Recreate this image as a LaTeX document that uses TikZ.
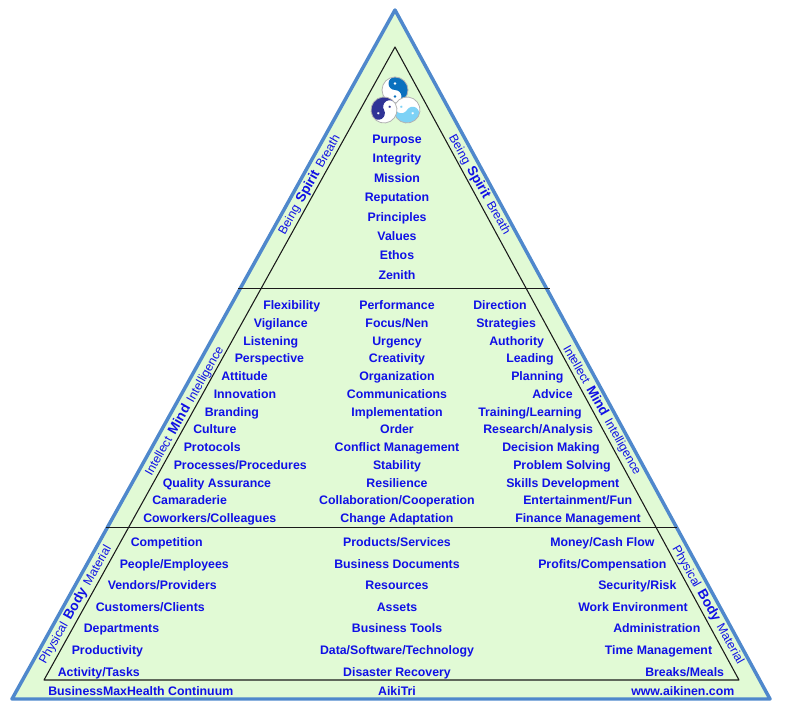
\documentclass[tikz,border=0pt]{standalone}
\usepackage{fontspec}
\setmainfont{Liberation Sans}
\definecolor{fillgreen}{HTML}{E1FAD5}
\definecolor{edgeblue}{HTML}{4F88CC}
\definecolor{txtblue}{HTML}{1010E6}
\definecolor{lineblack}{HTML}{1A1A1A}
\definecolor{yyblue}{HTML}{0A70BE}
\definecolor{yynavy}{HTML}{2F3396}
\definecolor{yylight}{HTML}{7DD2F6}
\newcommand{\yy}[4]{%
  \begin{scope}[shift={(#1,#2)},x=0.75pt,y=0.75pt,rotate=#3]
    \fill[white] (0,0) circle[radius=13];
    \fill[#4] (0,13) arc[start angle=90,end angle=-90,radius=13]
      arc[start angle=-90,end angle=90,radius=6.5]
      arc[start angle=270,end angle=90,radius=6.5] -- cycle;
    \draw[gray!60,line width=0.6pt] (0,0) circle[radius=13];
    \fill[white] (0,6.5) circle[radius=1.3];
    \fill[#4] (0,-6.5) circle[radius=1.3];
  \end{scope}}
\tikzset{
  lt/.style={anchor=base west,inner sep=0pt,font=\fontsize{9.25pt}{10pt}\selectfont\bfseries,text=txtblue},
  ct/.style={anchor=base,inner sep=0pt,font=\fontsize{9.25pt}{10pt}\selectfont\bfseries,text=txtblue},
  side/.style={anchor=center,inner sep=0pt,font=\fontsize{9.2pt}{10pt}\selectfont,text=txtblue},
  outer/.style={fill=fillgreen,draw=edgeblue,line width=2.6pt,line join=round},
  inner/.style={draw=lineblack,line width=0.8pt,line join=round},
  rule/.style={draw=lineblack,line width=0.7pt}
}
\newcommand{\sidetext}[3]{#1\hspace{0.42em}{\fontsize{10.2pt}{10pt}\selectfont\bfseries #2}\hspace{0.42em}#3}
\begin{document}
\begin{tikzpicture}[x=0.75pt,y=-0.75pt]
\useasboundingbox (0,0) rectangle (790,724);
\coordinate (oa) at (395,10);
\coordinate (ol) at (12,699);
\coordinate (or) at (770,699);
\coordinate (ia) at (395,47);
\coordinate (il) at (44,680);
\coordinate (ir) at (739,680);
\coordinate (ml) at (238,288);
\coordinate (mr) at (550,288);
\coordinate (bl) at (106,527);
\coordinate (br) at (677,527);
\draw[outer] (oa) -- (ol) -- (or) -- cycle;
\draw[inner] (ia) -- (il) -- (ir) -- cycle;
\draw[rule] (ml) -- (mr);
\draw[rule] (bl) -- (br);
\yy{395}{90}{0}{yyblue}
\yy{407}{110}{-120}{yylight}
\yy{384}{110}{120}{yynavy}
% Spirit
\node[ct] (s1) at (397,144) {Purpose};
\node[ct] (s2) at (397,163) {Integrity};
\node[ct] (s3) at (397,182.5) {Mission};
\node[ct] (s4) at (397,201.5) {Reputation};
\node[ct] (s5) at (397,221) {Principles};
\node[ct] (s6) at (397,240.5) {Values};
\node[ct] (s7) at (397,259.5) {Ethos};
\node[ct] (s8) at (397,279) {Zenith};
% Mind left
\node[lt] (ml1) at (263,309) {Flexibility};
\node[lt] (ml2) at (253.5,327) {Vigilance};
\node[lt] (ml3) at (243,345) {Listening};
\node[lt] (ml4) at (234.5,362.5) {Perspective};
\node[lt] (ml5) at (221,380.5) {Attitude};
\node[lt] (ml6) at (213.5,398) {Innovation};
\node[lt] (ml7) at (204.5,416) {Branding};
\node[lt] (ml8) at (193,433.5) {Culture};
\node[lt] (ml9) at (183.5,451.5) {Protocols};
\node[lt] (ml10) at (173.5,469) {Processes/Procedures};
\node[lt] (ml11) at (162.5,487) {Quality Assurance};
\node[lt] (ml12) at (152,504.5) {Camaraderie};
\node[lt] (ml13) at (143,522.5) {Coworkers/Colleagues};
% Mind centre
\node[ct] (mc1) at (397,309) {Performance};
\node[ct] (mc2) at (397,327) {Focus/Nen};
\node[ct] (mc3) at (397,345) {Urgency};
\node[ct] (mc4) at (397,362.5) {Creativity};
\node[ct] (mc5) at (397,380.5) {Organization};
\node[ct] (mc6) at (397,398) {Communications};
\node[ct] (mc7) at (397,416) {Implementation};
\node[ct] (mc8) at (397,433.5) {Order};
\node[ct] (mc9) at (397,451.5) {Conflict Management};
\node[ct] (mc10) at (397,469) {Stability};
\node[ct] (mc11) at (397,487) {Resilience};
\node[ct] (mc12) at (397,504.5) {Collaboration/Cooperation};
\node[ct] (mc13) at (397,522.5) {Change Adaptation};
% Mind right
\node[lt] (mr1) at (473,309) {Direction};
\node[lt] (mr2) at (476,327) {Strategies};
\node[lt] (mr3) at (489,345) {Authority};
\node[lt] (mr4) at (506,362.5) {Leading};
\node[lt] (mr5) at (511,380.5) {Planning};
\node[lt] (mr6) at (532,398) {Advice};
\node[lt] (mr7) at (478,416) {Training/Learning};
\node[lt] (mr8) at (483,433.5) {Research/Analysis};
\node[lt] (mr9) at (502,451.5) {Decision Making};
\node[lt] (mr10) at (513,469) {Problem Solving};
\node[lt] (mr11) at (506,487) {Skills Development};
\node[lt] (mr12) at (523,504.5) {Entertainment/Fun};
\node[lt] (mr13) at (515,522.5) {Finance Management};
% Body left
\node[lt] (bl1) at (130.5,546.5) {Competition};
\node[lt] (bl2) at (119.5,568) {People/Employees};
\node[lt] (bl3) at (107.5,589.5) {Vendors/Providers};
\node[lt] (bl4) at (95.5,611) {Customers/Clients};
\node[lt] (bl5) at (83.5,632.5) {Departments};
\node[lt] (bl6) at (71.5,654) {Productivity};
\node[lt] (bl7) at (57.5,676) {Activity/Tasks};
% Body centre
\node[ct] (bc1) at (397,546.5) {Products/Services};
\node[ct] (bc2) at (397,568) {Business Documents};
\node[ct] (bc3) at (397,589.5) {Resources};
\node[ct] (bc4) at (397,611) {Assets};
\node[ct] (bc5) at (397,632.5) {Business Tools};
\node[ct] (bc6) at (397,654) {Data/Software/Technology};
\node[ct] (bc7) at (397,676) {Disaster Recovery};
% Body right
\node[lt] (br1) at (550,546.5) {Money/Cash Flow};
\node[lt] (br2) at (538,568) {Profits/Compensation};
\node[lt] (br3) at (598,589.5) {Security/Risk};
\node[lt] (br4) at (578,611) {Work Environment};
\node[lt] (br5) at (613,632.5) {Administration};
\node[lt] (br6) at (604.5,654) {Time Management};
\node[lt] (br7) at (645,676) {Breaks/Meals};
% Footer
\node[lt] (f1) at (48,695.5) {BusinessMaxHealth Continuum};
\node[ct] (f2) at (397,695.5) {AikiTri};
\node[lt] (f3) at (631,695.5) {www.aikinen.com};
% Side labels
\node[side,rotate=60.5] (sl) at (309.5,184.5) {\sidetext{Being}{Spirit}{Breath}};
\node[side,rotate=-60.5] (sr) at (479.5,185) {\sidetext{Being}{Spirit}{Breath}};
\node[side,rotate=60.5] (il1) at (184.5,411) {\sidetext{Intellect}{Mind}{Intelligence}};
\node[side,rotate=-60.5] (ir1) at (602,410) {\sidetext{Intellect}{Mind}{Intelligence}};
\node[side,rotate=60.5] (pl) at (75.5,605) {\sidetext{Physical}{Body}{Material}};
\node[side,rotate=-60.5] (pr) at (708,605) {\sidetext{Physical}{Body}{Material}};
\end{tikzpicture}
\end{document}
